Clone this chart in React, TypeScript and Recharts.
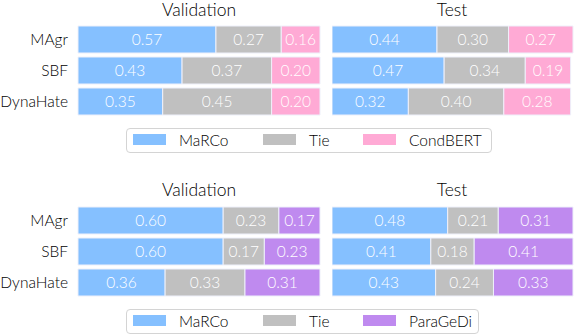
import React from "react";
import { BarChart, Bar, XAxis, YAxis, LabelList } from "recharts";

const categories = ["MAgr", "SBF", "DynaHate"];

const topValMarco = [0.57, 0.43, 0.35];
const topValTie = [0.27, 0.37, 0.45];
const topValOther = [0.16, 0.2, 0.2];
const topTestMarco = [0.44, 0.47, 0.32];
const topTestTie = [0.3, 0.34, 0.4];
const topTestOther = [0.27, 0.19, 0.28];

const botValMarco = [0.6, 0.6, 0.36];
const botValTie = [0.23, 0.17, 0.33];
const botValOther = [0.17, 0.23, 0.31];
const botTestMarco = [0.48, 0.41, 0.43];
const botTestTie = [0.21, 0.18, 0.24];
const botTestOther = [0.31, 0.41, 0.33];

const topSeries = ["MaRCo", "Tie", "CondBERT"];
const botSeries = ["MaRCo", "Tie", "ParaGeDi"];
const titles = ["Validation", "Test"];

const BLUE = "#85c0ff";
const GRAY = "#c0c0c0";
const PINK = "#ffaad5";
const PURPLE = "#bf8aef";

const FONT = "Lato, 'Noto Sans', sans-serif";
const WEIGHT = 300;
const LABEL_WEIGHT = 300;

function build(a: number[], b: number[], c: number[]) {
  return categories.map((name, i) => ({ name, a: a[i], b: b[i], c: c[i] }));
}

const fmt = (v: any) => Number(v).toFixed(2);

function Panel({
  data,
  colors,
  showY,
  width,
}: {
  data: any[];
  colors: string[];
  showY: boolean;
  width: number;
}) {
  return (
    <BarChart
      width={width}
      height={120}
      data={data}
      layout="vertical"
      margin={{ top: 24, right: 1, bottom: 3, left: 0 }}
      barSize={27}
    >
      <XAxis type="number" domain={[0, 1]} hide />
      <YAxis
        type="category"
        dataKey="name"
        hide={!showY}
        width={78}
        axisLine={false}
        tickLine={false}
        tickMargin={4}
        tick={{ fill: "#000", fontSize: 15.5, fontFamily: FONT, fontWeight: WEIGHT }}
      />
      {["a", "b", "c"].map((k, i) => (
        <Bar
          key={k}
          dataKey={k}
          stackId="s"
          fill={colors[i]}
          stroke="#eef0fa"
          strokeWidth={1}
          isAnimationActive={false}
        >
          <LabelList
            dataKey={k}
            position="center"
            formatter={fmt}
            fill="#ffffff"
            fontSize={15.5}
            fontFamily={FONT}
            fontWeight={LABEL_WEIGHT}
          />
        </Bar>
      ))}
    </BarChart>
  );
}

function Legend({
  names,
  colors,
  top,
  width,
}: {
  names: string[];
  colors: string[];
  top: number;
  width: number;
}) {
  const xs = [6, 136, 236];
  return (
    <div
      style={{
        position: "absolute",
        left: 126,
        top,
        width,
        height: 25,
        border: "1.5px solid #d4d4d4",
        borderRadius: 4,
        boxSizing: "border-box",
        fontFamily: FONT,
        fontWeight: WEIGHT,
        fontSize: 15.5,
        color: "#000",
      }}
    >
      {names.map((n, i) => (
        <div key={n}>
          <div
            style={{
              position: "absolute",
              left: xs[i],
              top: 5,
              width: 33,
              height: 11,
              background: colors[i],
            }}
          />
          <div
            style={{
              position: "absolute",
              left: xs[i] + 46,
              top: 1,
              lineHeight: "20px",
              whiteSpace: "nowrap",
            }}
          >
            {n}
          </div>
        </div>
      ))}
    </div>
  );
}

function Title({ text, cx, top }: { text: string; cx: number; top: number }) {
  return (
    <div
      style={{
        position: "absolute",
        left: cx - 60,
        width: 120,
        top,
        textAlign: "center",
        fontFamily: FONT,
        fontWeight: WEIGHT,
        fontSize: 17.5,
        color: "#000",
        lineHeight: "20px",
      }}
    >
      {text}
    </div>
  );
}

export default function App() {
  const topColors = [BLUE, GRAY, PINK];
  const botColors = [BLUE, GRAY, PURPLE];
  return (
    <div
      style={{
        position: "absolute",
        left: 0,
        top: 0,
        width: 574,
        height: 336,
        background: "#fff",
        overflow: "hidden",
      }}
    >
      <Title text={titles[0]} cx={199} top={0} />
      <Title text={titles[1]} cx={452} top={0} />
      <div style={{ position: "absolute", left: 0, top: 0 }}>
        <Panel data={build(topValMarco, topValTie, topValOther)} colors={topColors} showY width={321} />
      </div>
      <div style={{ position: "absolute", left: 332, top: 0 }}>
        <Panel data={build(topTestMarco, topTestTie, topTestOther)} colors={topColors} showY={false} width={242} />
      </div>
      <Legend names={topSeries} colors={topColors} top={128} width={366} />

      <Title text={titles[0]} cx={199} top={180} />
      <Title text={titles[1]} cx={452} top={180} />
      <div style={{ position: "absolute", left: 0, top: 181 }}>
        <Panel data={build(botValMarco, botValTie, botValOther)} colors={botColors} showY width={321} />
      </div>
      <div style={{ position: "absolute", left: 332, top: 181 }}>
        <Panel data={build(botTestMarco, botTestTie, botTestOther)} colors={botColors} showY={false} width={242} />
      </div>
      <Legend names={botSeries} colors={botColors} top={309} width={353} />
    </div>
  );
}
